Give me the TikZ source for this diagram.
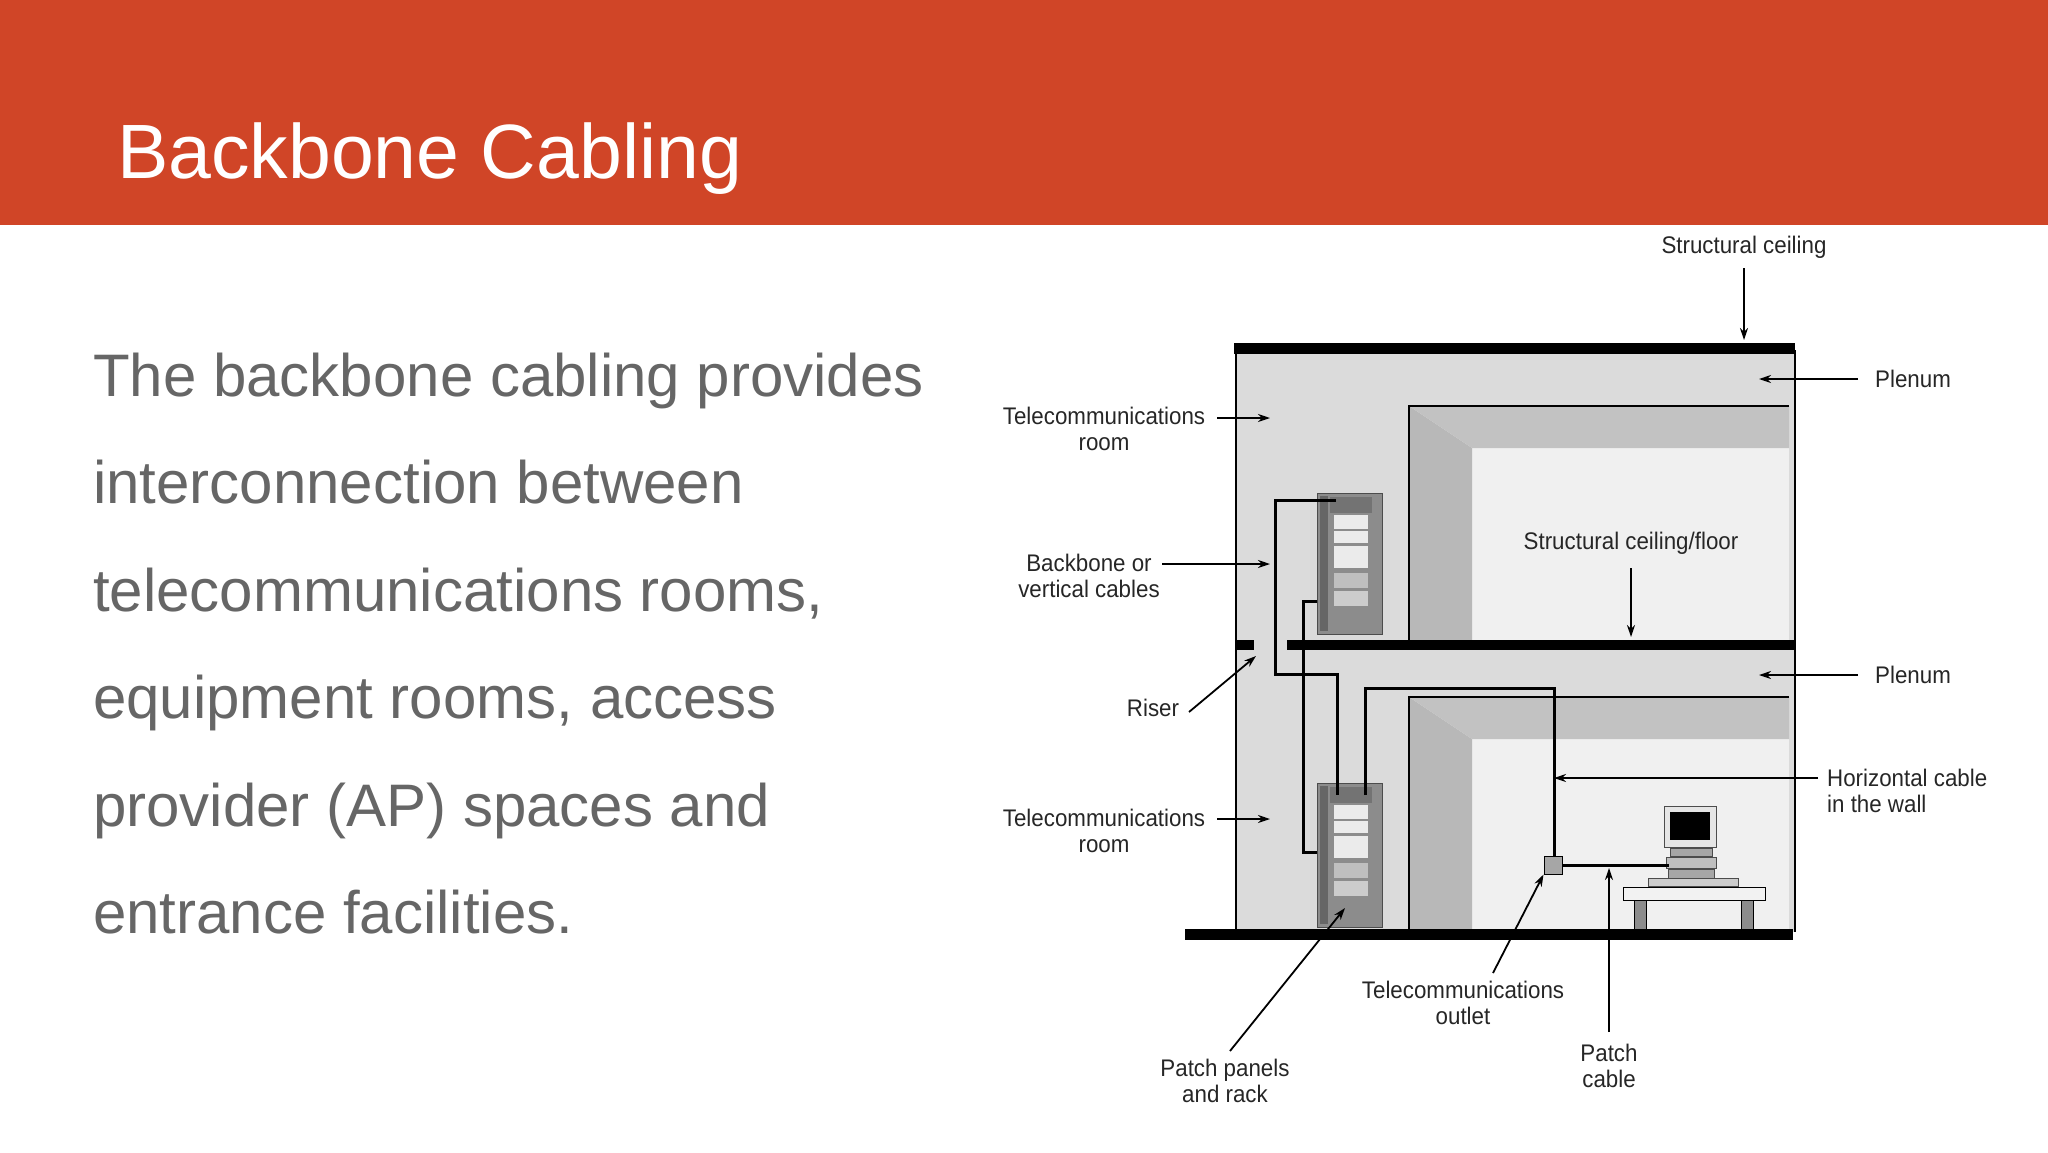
\documentclass[tikz,border=0pt]{standalone}
\usepackage{fontspec}
\usetikzlibrary{arrows.meta}
\setmainfont{Liberation Sans}
\newfontfamily\lbl[FakeStretch=0.93]{Liberation Sans}
\begin{document}
\begin{tikzpicture}[x=1pt,y=-1pt,
  lab/.style={font=\lbl\fontsize{24}{26}\selectfont,text=black!85,align=center,inner sep=0pt},
  body/.style={anchor=base west,text=black!60,font=\fontsize{60}{70}\selectfont,inner sep=0pt},
  arr/.style={-{Stealth[length=12pt,width=8pt]},line width=1.8pt},
  cab/.style={line width=3pt,black},
  bar/.style={fill=black,draw=none}]
\useasboundingbox (0,0) rectangle (2048,1152);
\fill[white] (0,0) rectangle (2048,1152);
\fill[fill={rgb,255:red,208;green,69;blue,39}] (0,0) rectangle (2048,225);
\node[anchor=west,text=white,font=\fontsize{77}{90}\selectfont,inner sep=0pt] (title) at (117,159) {Backbone Cabling};
\node[body] (b1) at (93,396) {The backbone cabling provides};
\node[body] (b2) at (93,503) {interconnection between};
\node[body] (b3) at (93,611) {telecommunications rooms,};
\node[body] (b4) at (93,718) {equipment rooms, access};
\node[body] (b5) at (93,826) {provider (AP) spaces and};
\node[body] (b6) at (93,933) {entrance facilities.};
% building
\fill[black!14] (1236,350) rectangle (1795,932);
\draw[line width=1.5pt] (1236,350) -- (1236,932) (1795,350) -- (1795,932);
% upper room
\fill[black!6] (1409,406) rectangle (1789,640);
\fill[black!28] (1409,406) -- (1472,448) -- (1472,640) -- (1409,640) -- cycle;
\fill[black!24] (1409,406) -- (1789,406) -- (1789,448) -- (1472,448) -- cycle;
\draw[line width=1.5pt] (1409,640) -- (1409,406) -- (1789,406);
% lower room
\fill[black!6] (1409,697) rectangle (1789,932);
\fill[black!28] (1409,697) -- (1472,739) -- (1472,932) -- (1409,932) -- cycle;
\fill[black!24] (1409,697) -- (1789,697) -- (1789,739) -- (1472,739) -- cycle;
\draw[line width=1.5pt] (1409,932) -- (1409,697) -- (1789,697);
% floors
\fill[bar] (1234,343) rectangle (1795,354);
\fill[bar] (1287,640) rectangle (1795,650);
\fill[bar] (1235,640) rectangle (1254,650);
\fill[bar] (1185,929) rectangle (1793,940);
% racks
\foreach \n/\ty/\by in {rackU/493/634,rackL/783/927}{
 \fill[black!45,draw=black!70,line width=1pt] (1317,\ty) rectangle (1382,\by);
 \fill[black!60] (1320,\ty+3) rectangle (1328,\by-3);
 \fill[black!55] (1330,\ty+4) rectangle (1372,\ty+20);
 \fill[black!8] (1334,\ty+22) rectangle (1368,\ty+36);
 \fill[black!8] (1334,\ty+38) rectangle (1368,\ty+50);
 \fill[black!8] (1334,\ty+53) rectangle (1368,\ty+75);
 \fill[black!25] (1334,\ty+80) rectangle (1368,\ty+95);
 \fill[black!20] (1334,\ty+98) rectangle (1368,\ty+113);
 \node[inner sep=0pt,minimum width=65pt,minimum height=\by-\ty] (\n) at (1349.5,{(\ty+\by)/2}) {};
}
% cables
\draw[cab] (1336,500) -- (1275,500) -- (1275,674) -- (1337,674) -- (1337,795);
\draw[cab] (1317,601) -- (1303,601) -- (1303,852) -- (1317,852);
\draw[cab] (1365,795) -- (1365,688) -- (1554,688) -- (1554,860);
% outlet
\node[draw=black,fill=black!35,line width=1pt,minimum size=18pt,inner sep=0pt] (outlet) at (1553,865) {};
% desk
\fill[black!5,draw=black,line width=1pt] (1623,887) rectangle (1765,900);
\fill[black!45,draw=black,line width=0.8pt] (1634,900) rectangle (1646,929);
\fill[black!45,draw=black,line width=0.8pt] (1741,900) rectangle (1753,929);
% computer
\fill[black!10,draw=black!70,line width=1pt] (1664,806) rectangle (1716,847);
\fill[black] (1670,812) rectangle (1710,840);
\fill[black!35,draw=black!70] (1670,848) rectangle (1712,856);
\fill[black!25,draw=black!70] (1666,857) rectangle (1716,868);
\fill[black!35,draw=black!70] (1668,869) rectangle (1714,878);
\fill[black!20,draw=black!70] (1648,878) rectangle (1738,886);
\node[inner sep=0pt,minimum width=52pt,minimum height=41pt] (pc) at (1690,826) {};
\coordinate (pcjack) at (1669,865);
\draw[cab] (outlet.east) -- (pcjack);
% labels
\node[lab] (l1) at (1744,247) {Structural ceiling};
\coordinate (t1) at (1744,340);
\draw[arr] (1744,268) -- (t1);
\node[lab,anchor=west] (l2) at (1875,379) {Plenum};
\coordinate (t2) at (1759,379);
\draw[arr] (1858,379) -- (t2);
\node[lab] (l3) at (1104,429) {Telecommunications\\room};
\coordinate (t3) at (1270,418);
\draw[arr] (1217,418) -- (t3);
\node[lab] (l4) at (1631,543) {Structural ceiling/floor};
\coordinate (t4) at (1631,637);
\draw[arr] (1631,568) -- (t4);
\node[lab] (l5) at (1089,576) {Backbone or\\vertical cables};
\coordinate (t5) at (1270,564);
\draw[arr] (1162,564) -- (t5);
\node[lab] (l6) at (1153,708) {Riser};
\coordinate (t6) at (1256,656);
\draw[arr] (1189,712) -- (t6);
\node[lab,anchor=west] (l7) at (1875,675) {Plenum};
\coordinate (t7) at (1759,675);
\draw[arr] (1858,675) -- (t7);
\node[lab,anchor=west,align=left] (l8) at (1827,791) {Horizontal cable\\in the wall};
\coordinate (t8) at (1554,778);
\draw[arr] (1818,778) -- (t8);
\node[lab] (l9) at (1104,831) {Telecommunications\\room};
\coordinate (t9) at (1270,819);
\draw[arr] (1217,819) -- (t9);
\node[lab] (l10) at (1463,1003) {Telecommunications\\outlet};
\draw[arr] (1493,973) -- (outlet.south west);
\node[lab] (l11) at (1609,1066) {Patch\\cable};
\coordinate (t11) at (1609,868);
\draw[arr] (1609,1032) -- (t11);
\node[lab] (l12) at (1225,1081) {Patch panels\\and rack};
\coordinate (t12) at (1345,908);
\draw[arr] (1230,1051) -- (t12);
\end{tikzpicture}
\end{document}
